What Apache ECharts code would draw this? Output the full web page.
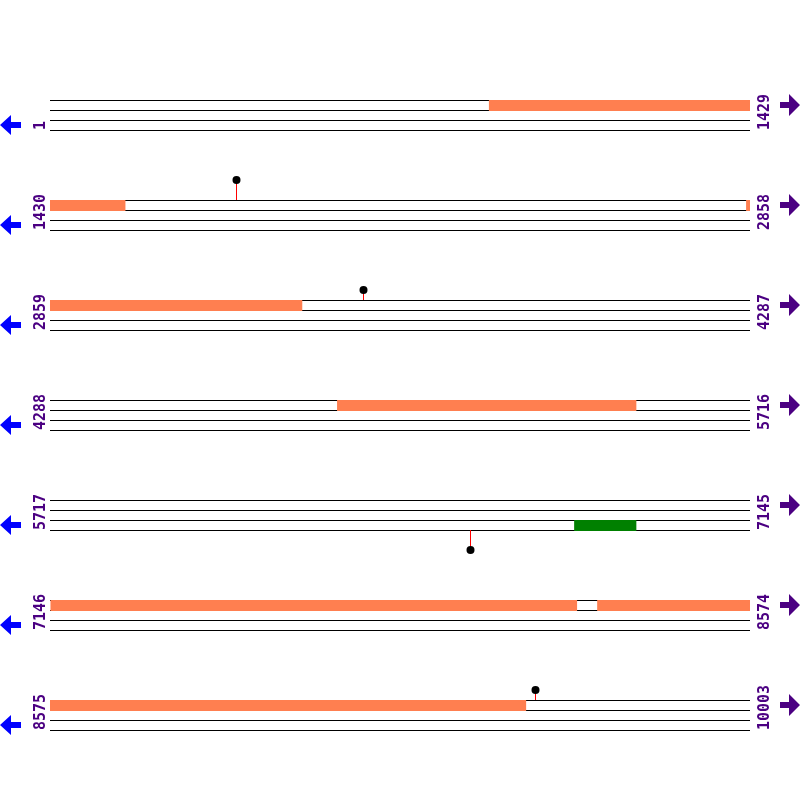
<!DOCTYPE html>
<html><head><meta charset="utf-8">
<script src="https://cdn.jsdelivr.net/npm/echarts@6/dist/echarts.min.js"></script>
<style>html,body{margin:0;padding:0;background:#fff}#c{width:800px;height:800px}</style>
</head><body><div id="c"></div>
<script>
// ---- data ----
const rowStarts = [1, 1430, 2859, 4288, 5717, 7146, 8575];
const rowEnds   = [1429, 2858, 4287, 5716, 7145, 8574, 10003];
const rowLength = 1429;
const featStart = [897, 2851, 4874, 6787, 7147, 8263];
const featEnd   = [1583, 3373, 5484, 6913, 8221, 9546];
const featTrack = [0, 0, 0, 2, 0, 0];
const featKind  = ['orange', 'orange', 'orange', 'green', 'orange', 'orange'];
const siteBp    = [1810, 3497, 6575, 9566];
const siteSide  = ['top', 'top', 'bottom', 'top'];
const siteLevel = [2, 1, 2, 1];

// ---- styles ----
const COLORS = { orange: '#FF7F50', green: '#008000' };
const LABEL_COLOR = '#4B0082';
const LABEL_FONT = 'bold 15px "DejaVu Sans Mono"';
const ROW_TOP0 = 100, ROW_GAP = 100, ROW_H = 30, LEFT = 50, WIDTH = 700;

const chart = echarts.init(document.getElementById('c'), null, { renderer: 'canvas' });

const grids = [], xAxes = [], yAxes = [], series = [], graphics = [];

function renderFeat(params, api) {
  const s = api.value(0), e = api.value(1), t = api.value(2);
  const p0 = api.coord([s, t]);
  const p1 = api.coord([e, t + 1]);
  return {
    type: 'rect',
    shape: { x: p0[0], y: p0[1], width: p1[0] - p0[0], height: p1[1] - p0[1] + 1 },
    style: { fill: api.visual('color') }
  };
}
function renderSite(params, api) {
  const b = api.value(0), side = api.value(1), lev = api.value(2);
  const lineY = side === 0 ? 0 : 3;
  const dotY = side === 0 ? -lev : 3 + lev;
  const a = api.coord([b, lineY]);
  const d = api.coord([b, dotY]);
  const x = Math.round(a[0]) + 0.5;
  return {
    type: 'group',
    children: [
      { type: 'line', shape: { x1: x, y1: a[1], x2: x, y2: d[1] }, style: { stroke: '#FF0000', lineWidth: 1 } },
      { type: 'circle', shape: { cx: x, cy: d[1], r: 4 }, style: { fill: '#000' } }
    ]
  };
}

rowStarts.forEach((rs, i) => {
  const re = rs + rowLength; // exclusive end
  const top = ROW_TOP0 + ROW_GAP * i;
  grids.push({ left: LEFT, top: top, width: WIDTH, height: ROW_H, containLabel: false });
  xAxes.push({ type: 'value', gridIndex: i, min: rs, max: re, show: false });
  yAxes.push({
    type: 'value', gridIndex: i, min: 0, max: 3, interval: 1, inverse: true,
    axisLine: { show: false }, axisTick: { show: false }, axisLabel: { show: false },
    splitLine: { show: true, lineStyle: { color: '#000', width: 1 } }
  });
  const fdata = [];
  featStart.forEach((fs, k) => {
    const s = Math.max(fs, rs), e = Math.min(featEnd[k] + 1, re);
    if (e > s) fdata.push({ value: [s, e, featTrack[k]], itemStyle: { color: COLORS[featKind[k]] } });
  });
  series.push({ type: 'custom', xAxisIndex: i, yAxisIndex: i, renderItem: renderFeat, data: fdata, clip: false, silent: true });
  const sdata = [];
  siteBp.forEach((b, k) => {
    if (b >= rs && b < re) sdata.push([b, siteSide[k] === 'top' ? 0 : 1, siteLevel[k]]);
  });
  series.push({ type: 'custom', xAxisIndex: i, yAxisIndex: i, renderItem: renderSite, data: sdata, clip: false, silent: true, z: 5 });

  const bottom = top + ROW_H;
  graphics.push({
    type: 'text', x: 41, y: bottom, rotation: Math.PI / 2,
    style: { text: String(rs), fill: LABEL_COLOR, font: LABEL_FONT, textAlign: 'left', textVerticalAlign: 'middle' }
  });
  graphics.push({
    type: 'text', x: 765, y: bottom, rotation: Math.PI / 2,
    style: { text: String(rowEnds[i]), fill: LABEL_COLOR, font: LABEL_FONT, textAlign: 'left', textVerticalAlign: 'middle' }
  });
  // left (reverse) arrow
  const cy = top + 25;
  graphics.push({
    type: 'polygon',
    shape: { points: [[0, cy], [11, cy - 10], [11, cy - 3], [21, cy - 3], [21, cy + 3], [11, cy + 3], [11, cy + 10]] },
    style: { fill: '#0000FF' }
  });
  // right (forward) arrow
  const cy2 = top + 5;
  graphics.push({
    type: 'polygon',
    shape: { points: [[800, cy2], [789, cy2 - 11], [789, cy2 - 3], [780, cy2 - 3], [780, cy2 + 3], [789, cy2 + 3], [789, cy2 + 11]] },
    style: { fill: LABEL_COLOR }
  });
});

chart.setOption({
  animation: false,
  backgroundColor: '#fff',
  grid: grids, xAxis: xAxes, yAxis: yAxes, series: series, graphic: graphics
});
</script></body></html>
